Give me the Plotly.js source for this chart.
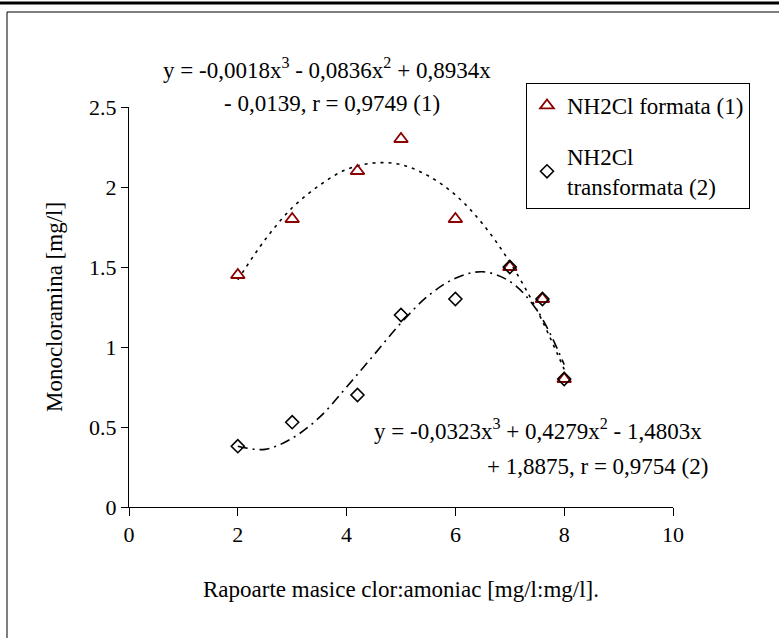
<!DOCTYPE html>
<html>
<head>
<meta charset="utf-8">
<script src="https://cdn.plot.ly/plotly-3.0.1.min.js"></script>
<style>
  html, body { margin: 0; padding: 0; background: #fff; }
  #chart { width: 779px; height: 638px; }
  #chart svg text { font-family: "Liberation Serif", "Times New Roman", serif !important; }
</style>
</head>
<body>
<div id="chart"></div>
<script>
// ---- data ----
const ratio = [2, 3, 4.2, 5, 6, 7, 7.6, 8];
const formata = [1.45, 1.8, 2.1, 2.3, 1.8, 1.5, 1.3, 0.8];
const transformata = [0.38, 0.53, 0.7, 1.2, 1.3, 1.5, 1.3, 0.8];

// trend curves
const trendX = [2, 2.5, 3, 3.5, 4, 4.5, 5, 5.5, 6, 6.5, 7, 7.5, 8];
const trend1 = [1.42, 1.67, 1.87, 2.01, 2.11, 2.15, 2.14, 2.07, 1.95, 1.77, 1.53, 1.23, 0.86];
const trend2 = [0.38, 0.36, 0.43, 0.56, 0.75, 0.95, 1.15, 1.32, 1.43, 1.47, 1.41, 1.23, 0.89];

const seriesNames = ['NH2Cl formata (1)', 'NH2Cl<br>transformata (2)'];
const xTicks = [0, 2, 4, 6, 8, 10];
const yTicks = [0, 0.5, 1, 1.5, 2, 2.5];

const eq1 = ['y = -0,0018x<sup>3</sup> - 0,0836x<sup>2</sup> + 0,8934x', '- 0,0139, r = 0,9749 (1)'];
const eq2 = ['y = -0,0323x<sup>3</sup> + 0,4279x<sup>2</sup> - 1,4803x', '+ 1,8875, r = 0,9754 (2)'];

const FONT = 'Liberation Serif';
const FS = 23;
const TFS = 22;

// plot area in pixels
const L = 129, R = 673, T = 107, B = 507, W = 779, H = 638;
const px = x => (x - L) / (R - L);
const py = y => (B - y) / (B - T);

const traces = [
  { x: trendX, y: trend1, mode: 'lines', showlegend: false, hoverinfo: 'skip',
    line: { color: '#000', width: 1.6, dash: '3px,5px', shape: 'spline', smoothing: 1 } },
  { x: trendX, y: trend2, mode: 'lines', showlegend: false, hoverinfo: 'skip',
    line: { color: '#000', width: 1.6, dash: '10px,5px,2px,5px', shape: 'spline', smoothing: 1 } },
  { x: ratio, y: formata, mode: 'markers', name: seriesNames[0], legendgroup: 'a',
    marker: { symbol: 'triangle-up-open', size: 12, color: '#8B0000', line: { width: 1.8, color: '#8B0000' } } },
  { x: ratio, y: transformata, mode: 'markers', name: seriesNames[1], legendgroup: 'b',
    marker: { symbol: 'diamond-open', size: 10, color: '#000', line: { width: 1.6, color: '#000' } } }
];

const annText = (text, x, y) => ({
  text, xref: 'paper', yref: 'paper', x: px(x), y: py(y),
  xanchor: 'center', yanchor: 'middle', showarrow: false,
  font: { family: FONT, size: FS, color: '#000' }
});

const layout = {
  width: W, height: H,
  margin: { l: L, r: W - R, t: T, b: H - B, pad: 0 },
  paper_bgcolor: '#fff', plot_bgcolor: '#fff',
  font: { family: FONT, size: FS, color: '#000' },
  xaxis: {
    range: [0, 10], tickvals: xTicks, ticktext: xTicks.map(String),
    showgrid: false, zeroline: false, showline: true, linecolor: '#000', linewidth: 1,
    ticks: 'outside', ticklen: 8, tickcolor: '#000', tickwidth: 1,
    tickfont: { family: FONT, size: TFS, color: '#000' },
    title: { text: 'Rapoarte masice clor:amoniac [mg/l:mg/l].', standoff: 34,
             font: { family: FONT, size: FS, color: '#000' } }
  },
  yaxis: {
    range: [0, 2.5], tickvals: yTicks, ticktext: yTicks.map(String),
    showgrid: false, zeroline: false, showline: true, linecolor: '#000', linewidth: 1,
    ticks: 'outside', ticklen: 7, tickcolor: '#000', tickwidth: 1,
    tickfont: { family: FONT, size: TFS, color: '#000' },
    title: { text: 'Monocloramina [mg/l]', standoff: 20,
             font: { family: FONT, size: FS, color: '#000' } }
  },
  legend: {
    x: px(526), y: py(83), xanchor: 'left', yanchor: 'top',
    bgcolor: '#fff', bordercolor: '#000', borderwidth: 1,
    font: { family: FONT, size: FS, color: '#000' },
    traceorder: 'grouped', tracegroupgap: 18, itemwidth: 30,
    entrywidth: 200, entrywidthmode: 'pixels'
  },
  showlegend: true,
  annotations: [
    annText(eq1[0], 327, 68),
    annText(eq1[1], 332, 104),
    annText(eq2[0], 538, 429),
    annText(eq2[1], 597, 466)
  ],
  shapes: [
    { type: 'line', xref: 'paper', yref: 'paper', x0: px(0), x1: px(W), y0: py(3), y1: py(3),
      line: { color: '#000', width: 3 } },
    { type: 'line', xref: 'paper', yref: 'paper', x0: px(7), x1: px(W), y0: py(12), y1: py(12),
      line: { color: '#000', width: 1 } },
    { type: 'line', xref: 'paper', yref: 'paper', x0: px(7), x1: px(7), y0: py(12), y1: py(H),
      line: { color: '#000', width: 1 } }
  ]
};

Plotly.newPlot('chart', traces, layout, { displayModeBar: false, staticPlot: true });
</script>
</body>
</html>
